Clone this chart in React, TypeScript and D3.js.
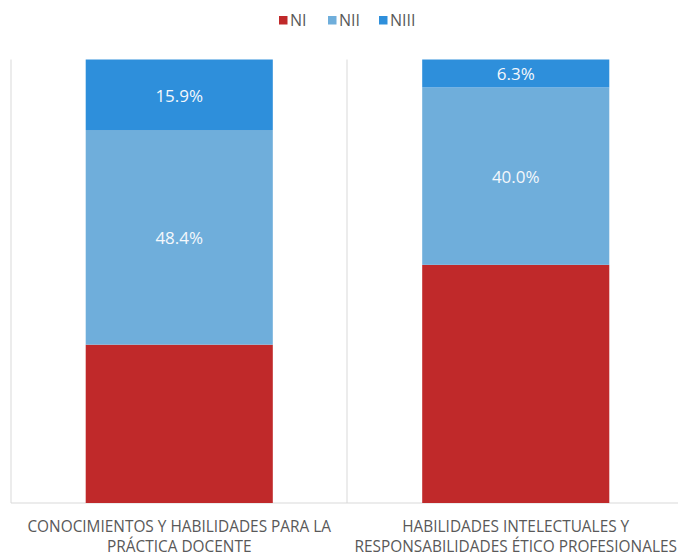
import React from 'react';
import * as d3 from 'd3';

const categories = [
  ['CONOCIMIENTOS Y HABILIDADES PARA LA', 'PRÁCTICA DOCENTE'],
  ['HABILIDADES INTELECTUALES Y', 'RESPONSABILIDADES ÉTICO PROFESIONALES'],
];
const seriesNames = ['NI', 'NII', 'NIII'];
const niValues = [35.7, 53.7];
const niiValues = [48.4, 40.0];
const niiiValues = [15.9, 6.3];
const showLabel = [false, true, true];

const colors = ['#C0292A', '#6FAEDB', '#2E8FDB'];
const font = "'Open Sans', sans-serif";

const W = 678;
const H = 556;

const App: React.FC = () => {
  const keys = categories.map((_, i) => String(i));
  const x = d3.scaleBand<string>().domain(keys).range([11, 684]).padding(0);
  const y = d3.scaleLinear().domain([0, 100]).range([503, 59.5]);
  const barW = x.bandwidth() * 0.556;

  const rows = categories.map((_, i) => ({ NI: niValues[i], NII: niiValues[i], NIII: niiiValues[i] }));
  const stacked = d3.stack<any>().keys(seriesNames)(rows);

  // legend layout
  const legendX = [279, 328, 379];

  return (
    <svg width={W} height={H} style={{ position: 'absolute', left: 0, top: 0 }}>
      <rect width={W} height={H} fill="#fff" />
      {/* gridlines between categories */}
      {[11, 347].map((gx, i) => (
        <line key={i} x1={gx} x2={gx} y1={59.5} y2={503} stroke="#d9d9d9" strokeWidth={1} />
      ))}
      <line x1={11} x2={684} y1={503} y2={503} stroke="#d9d9d9" strokeWidth={1} />

      {stacked.map((s, si) => (
        <g key={s.key}>
          {s.map((d, i) => {
            const cx = (x(keys[i]) as number) + x.bandwidth() / 2;
            const y0 = y(d[1]);
            const y1 = y(d[0]);
            return (
              <g key={i}>
                <rect x={cx - barW / 2} y={y0} width={barW} height={y1 - y0} fill={colors[si]} />
                {showLabel[si] && (
                  <text
                    x={cx}
                    y={(y0 + y1) / 2 + 1}
                    dy="0.35em"
                    textAnchor="middle"
                    fill="#f4f8fc"
                    fontFamily={font}
                    fontSize={17}
                  >
                    {(d[1] - d[0]).toFixed(1)}%
                  </text>
                )}
              </g>
            );
          })}
        </g>
      ))}

      {/* category labels */}
      {categories.map((lines, i) => {
        const cx = (x(keys[i]) as number) + x.bandwidth() / 2;
        return (
          <text key={i} textAnchor="middle" fill="#595959" fontFamily={font} fontSize={15.4}>
            {lines.map((l, li) => (
              <tspan key={li} x={cx} y={532 + li * 19.5}>
                {l}
              </tspan>
            ))}
          </text>
        );
      })}

      {/* legend */}
      {seriesNames.map((n, i) => (
        <g key={n} transform={`translate(${legendX[i]},0)`}>
          <rect x={0} y={16} width={8.5} height={8.5} fill={colors[i]} />
          <text x={11} y={26} fill="#595959" fontFamily={font} fontSize={16}>
            {n}
          </text>
        </g>
      ))}
    </svg>
  );
};

export default App;
